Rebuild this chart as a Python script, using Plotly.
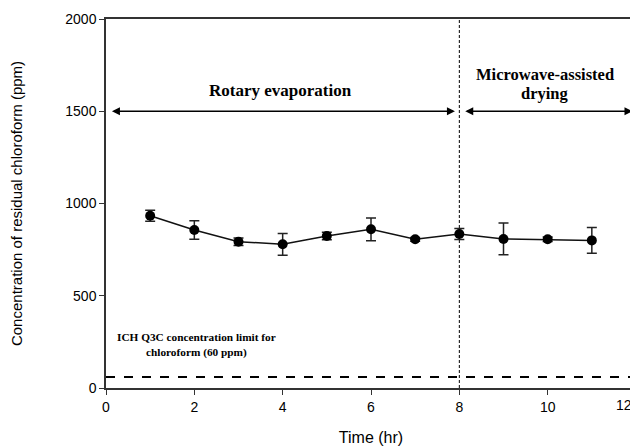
import plotly.graph_objects as go

time_hr = [1, 2, 3, 4, 5, 6, 7, 8, 9, 10, 11]
chloroform_ppm = [934, 856, 793, 779, 824, 860, 806, 835, 808, 806, 800]
error_ppm = [30, 50, 20, 59, 20, 62, 10, 30, 86, 12, 70]
ich_limit_ppm = 60
phase_boundary_hr = 8
x_ticks = [0, 2, 4, 6, 8, 10, 12]
y_ticks = [0, 500, 1000, 1500, 2000]

serif = "Liberation Serif, Times New Roman, serif"
sans = "Liberation Sans, Arial, sans-serif"

fig = go.Figure()

fig.add_trace(go.Scatter(
    x=time_hr, y=chloroform_ppm,
    mode="lines+markers",
    line=dict(color="#111111", width=1.5),
    marker=dict(color="black", size=10),
    error_y=dict(type="data", array=error_ppm, visible=True,
                 color="#222222", thickness=1.5, width=5),
    showlegend=False,
    cliponaxis=False,
))

# ICH limit line
fig.add_shape(type="line", xref="x", yref="y", x0=0, x1=12,
              y0=ich_limit_ppm, y1=ich_limit_ppm,
              line=dict(color="black", width=2, dash="dash"))
# phase boundary
fig.add_shape(type="line", xref="x", yref="y", x0=phase_boundary_hr, x1=phase_boundary_hr,
              y0=0, y1=2000,
              line=dict(color="black", width=1, dash="3px,2px"))

# double-headed arrows
for x0, x1 in [(0.1, 7.9), (8.1, 11.92)]:
    fig.add_annotation(x=x1, y=1500, ax=x0, ay=1500, xref="x", yref="y",
                       axref="x", ayref="y", text="", showarrow=True,
                       arrowhead=2, startarrowhead=2, arrowside="end+start",
                       arrowsize=1, startarrowsize=1, arrowwidth=1.6,
                       arrowcolor="black")

fig.add_annotation(x=3.95, y=1612, xref="x", yref="y", text="<b>Rotary evaporation</b>",
                   showarrow=False, font=dict(family=serif, size=17, color="black"))
fig.add_annotation(x=9.95, y=1700, xref="x", yref="y", text="<b>Microwave-assisted</b>",
                   showarrow=False, font=dict(family=serif, size=16.5, color="black"))
fig.add_annotation(x=9.95, y=1596, xref="x", yref="y", text="<b>drying</b>",
                   showarrow=False, font=dict(family=serif, size=16.5, color="black"))
fig.add_annotation(x=2.05, y=232, xref="x", yref="y",
                   text="<b>ICH Q3C concentration limit for<br>chloroform (60 ppm)</b>",
                   showarrow=False, font=dict(family=serif, size=11.3, color="black"))

# last x tick label sits at the right edge of the picture
fig.add_annotation(x=x_ticks[-1], y=0, xref="x", yref="paper", text=str(x_ticks[-1]),
                   showarrow=False, yanchor="top", xanchor="right", xshift=-3, yshift=-8,
                   borderpad=0, font=dict(family=sans, size=14, color="black"))

# page body has an 8px default margin: figure is sized to fill the 638x448 window
fig.update_layout(
    width=630, height=440,
    margin=dict(l=98, r=2, t=11, b=60),
    paper_bgcolor="white", plot_bgcolor="white",
    font=dict(family=sans, color="black"),
)
fig.update_xaxes(range=[0, 12], tickvals=x_ticks, showgrid=False, zeroline=False,
                 showline=True, linecolor="#333333", linewidth=1.5, mirror=True,
                 ticks="outside", ticklen=5, tickwidth=1, tickcolor="#333333",
                 tickfont=dict(size=14, family=sans), automargin=False,
                 title=dict(text="Time (hr)", font=dict(size=16, family=sans), standoff=18))
fig.update_yaxes(range=[0, 2000], tickvals=y_ticks, showgrid=False, zeroline=False,
                 showline=True, linecolor="#333333", linewidth=1.5, mirror=True,
                 ticks="outside", ticklen=5, tickwidth=1, tickcolor="#333333",
                 tickfont=dict(size=14, family=sans), automargin=False,
                 title=dict(text="Concentration of residual chloroform (ppm)",
                            font=dict(size=15, family=sans), standoff=39))

fig.write_html("out.html")
